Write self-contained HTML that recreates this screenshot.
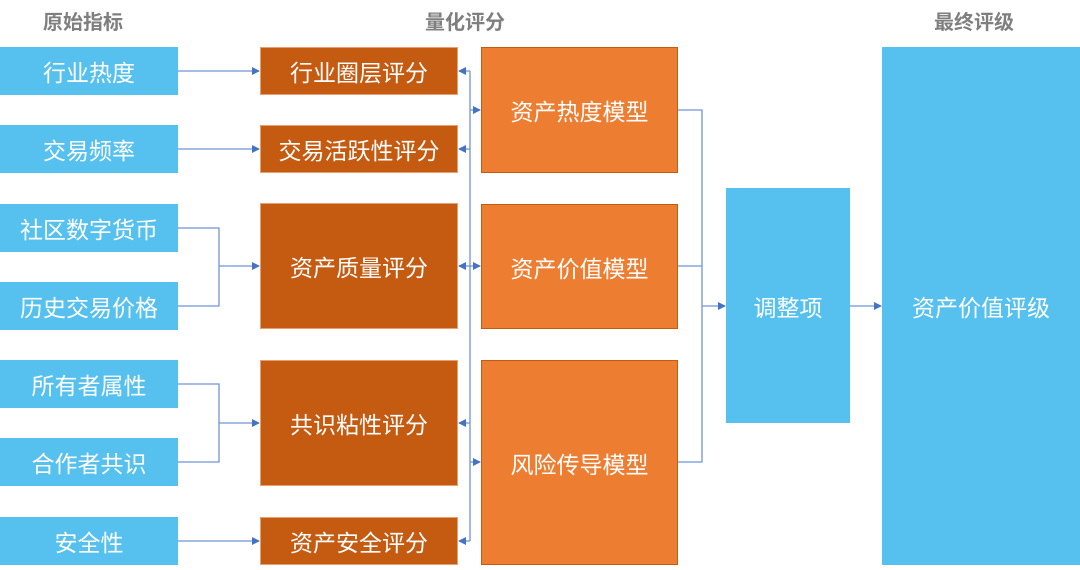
<!DOCTYPE html>
<html><head><meta charset="utf-8">
<style>
body{margin:0;width:1080px;height:570px;background:#fff;position:relative;overflow:hidden;font-family:"Liberation Sans","Noto Sans CJK SC",sans-serif}
.b{position:absolute;display:flex;align-items:center;justify-content:center;color:#fff;font-size:23px;box-sizing:border-box}
.l{background:#56c1ee;left:0;width:178px;height:48px}
.d{background:#c55a11;left:260px;width:198px;border:1px solid #e8a070}
.m{background:#ed7d31;left:481px;width:197px;border:1px solid #c55a11}
.h{position:absolute;top:6px;color:#7f7f7f;font-size:20px;font-weight:bold}
svg{position:absolute;left:0;top:0}
</style></head><body>
<div class="h" style="left:43px">原始指标</div>
<div class="h" style="left:425px">量化评分</div>
<div class="h" style="left:934px">最终评级</div>

<div class="b l" style="top:47px">行业热度</div>
<div class="b l" style="top:125px">交易频率</div>
<div class="b l" style="top:204px">社区数字货币</div>
<div class="b l" style="top:282px">历史交易价格</div>
<div class="b l" style="top:360px">所有者属性</div>
<div class="b l" style="top:438px">合作者共识</div>
<div class="b l" style="top:517px">安全性</div>

<div class="b d" style="top:47px;height:48px">行业圈层评分</div>
<div class="b d" style="top:125px;height:48px">交易活跃性评分</div>
<div class="b d" style="top:203px;height:126px">资产质量评分</div>
<div class="b d" style="top:360px;height:126px">共识粘性评分</div>
<div class="b d" style="top:517px;height:48px">资产安全评分</div>

<div class="b m" style="top:47px;height:126px">资产热度模型</div>
<div class="b m" style="top:204px;height:125px">资产价值模型</div>
<div class="b m" style="top:360px;height:205px">风险传导模型</div>

<div class="b" style="background:#56c1ee;left:726px;top:188px;width:124px;height:235px">调整项</div>
<div class="b" style="background:#56c1ee;left:882px;top:47px;width:198px;height:518px">资产价值评级</div>

<svg width="1080" height="570">
<defs><marker id="a" markerWidth="8" markerHeight="8" refX="7" refY="4" orient="auto" markerUnits="userSpaceOnUse"><path d="M0,0 L8,4 L0,8z" fill="#4472c4"/></marker></defs>
<g stroke="#6f94d6" stroke-width="1.3" fill="none">
<path d="M178 71H259" marker-end="url(#a)"/>
<path d="M178 149H259" marker-end="url(#a)"/>
<path d="M178 228H219V306H178M219 266H259" marker-end="url(#a)"/>
<path d="M178 384H219V462H178M219 423H259" marker-end="url(#a)"/>
<path d="M178 541H259" marker-end="url(#a)"/>
<path d="M470 71V541"/>
<path d="M470 71H459" marker-end="url(#a)"/>
<path d="M470 149H459" marker-end="url(#a)"/>
<path d="M470 266H459" marker-end="url(#a)"/>
<path d="M470 423H459" marker-end="url(#a)"/>
<path d="M470 541H459" marker-end="url(#a)"/>
<path d="M470 110H480" marker-end="url(#a)"/>
<path d="M470 266H480" marker-end="url(#a)"/>
<path d="M470 462H480" marker-end="url(#a)"/>
<path d="M678 110H702V462H678M678 266H702"/>
<path d="M702 306H725" marker-end="url(#a)"/>
<path d="M850 306H881" marker-end="url(#a)"/>
</g>
</svg>
</body></html>
